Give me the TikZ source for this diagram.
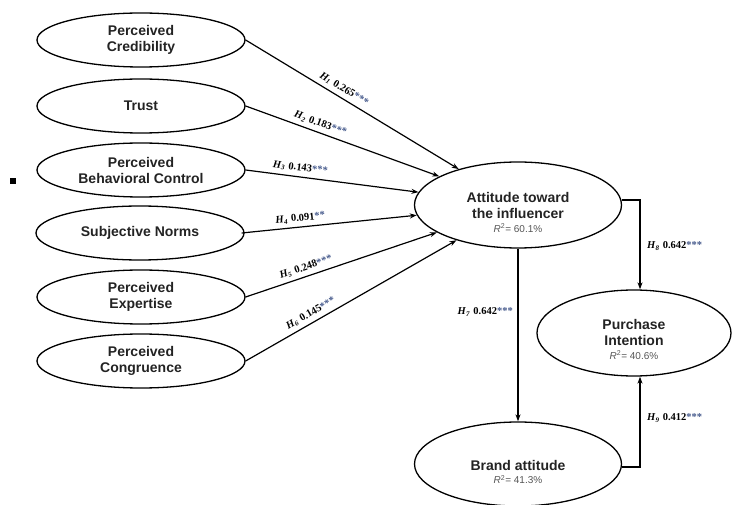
\documentclass[tikz,border=0pt]{standalone}
\usepackage{fontspec}
\setmainfont{Liberation Serif}
\setsansfont{Liberation Sans}
\usetikzlibrary{shapes.geometric,arrows.meta}
\definecolor{starblue}{RGB}{70,90,140}
\definecolor{rgrey}{RGB}{85,85,85}
\definecolor{ctextc}{RGB}{35,35,35}
\newcommand{\hlabel}[3]{\textit{H}\raisebox{-0.3ex}{\fontsize{7}{7}\selectfont\textit{#1}}\hspace{0.35em}#2\textcolor{starblue}{#3}}
\newcommand{\rsq}[1]{{\mdseries\color{rgrey}\fontsize{10}{12}\selectfont\textit{R}\textsuperscript{2}= #1\%}}
\tikzset{
  construct/.style={ellipse, draw, line width=1.3pt, minimum width=208pt, minimum height=54pt,
    inner sep=0pt, align=center, text=ctextc,
    font=\sffamily\bfseries\fontsize{14}{16}\selectfont},
  ctext/.style={align=center, inner sep=0pt, text=ctextc,
    font=\sffamily\bfseries\fontsize{14}{16.5}\selectfont},
  pathline/.style={-{Stealth[length=7pt,width=5pt]}, line width=1.2pt},
  hlab/.style={font=\fontsize{10.5}{11}\selectfont\bfseries, inner sep=1pt},
}
\begin{document}
\begin{tikzpicture}[x=1pt,y=-1pt]
\useasboundingbox (0,0) rectangle (732,505);
% left constructs
\node[construct] (cred) at (141,40) {Perceived\\Credibility};
\node[construct] (trust) at (141,106) {Trust};
\node[construct] (pbc) at (141,170) {Perceived\\Behavioral Control};
\node[construct] (sn) at (140,233) {Subjective Norms};
\node[construct] (exp) at (141,297) {Perceived\\Expertise};
\node[construct] (cong) at (141,361) {Perceived\\Congruence};
% right constructs
\node[construct, minimum width=207pt, minimum height=86pt] (att) at (518,205) {};
\node[ctext] (att-t) at (518,212) {Attitude toward\\the influencer\\[-3pt]\rsq{60.1}};
\node[construct, minimum width=194pt, minimum height=86pt] (pi) at (634,333) {};
\node[ctext] (pi-t) at (634,339) {Purchase\\Intention\\[-3pt]\rsq{40.6}};
\node[construct, minimum width=207pt, minimum height=84pt] (brand) at (518,464) {};
\node[ctext] (brand-t) at (518,472) {Brand attitude\\[-3pt]\rsq{41.3}};
% bullet
\fill (10,178) rectangle (16,184);
% paths
\draw[pathline] (cred.east) -- node[hlab, sloped, above=3pt, pos=0.44] (l1) {\hlabel{1}{0.265}{***}} (att);
\draw[pathline] (trust.east) -- node[hlab, sloped, above=3pt, pos=0.37] (l2) {\hlabel{2}{0.183}{***}} (att);
\draw[pathline] (pbc.east) -- node[hlab, sloped, above=3pt, pos=0.31] (l3) {\hlabel{3}{0.143}{***}} (att);
\draw[pathline] ([xshift=-3pt]sn.east) -- node[hlab, sloped, above=3pt, pos=0.34] (l4) {\hlabel{4}{0.091}{**}} (att);
\draw[pathline] (exp.east) -- node[hlab, sloped, above=3pt, pos=0.33] (l5) {\hlabel{5}{0.248}{***}} (att);
\draw[pathline] (cong.east) -- node[hlab, sloped, above=3pt, pos=0.33] (l6) {\hlabel{6}{0.145}{***}} (att);
\draw[pathline] (att.south) -- (brand.north);
\draw[pathline] ([yshift=5pt]att.east) -| ([xshift=6pt]pi.north);
\draw[pathline] ([yshift=-3pt]brand.east) -| ([xshift=6pt]pi.south);
\node[hlab, anchor=east] (l7) at (514,312) {\hlabel{7}{0.642}{***}};
\node[hlab, anchor=west] (l8) at (646,246) {\hlabel{8}{0.642}{***}};
\node[hlab, anchor=west] (l9) at (646,418) {\hlabel{9}{0.412}{***}};
\end{tikzpicture}
\end{document}
